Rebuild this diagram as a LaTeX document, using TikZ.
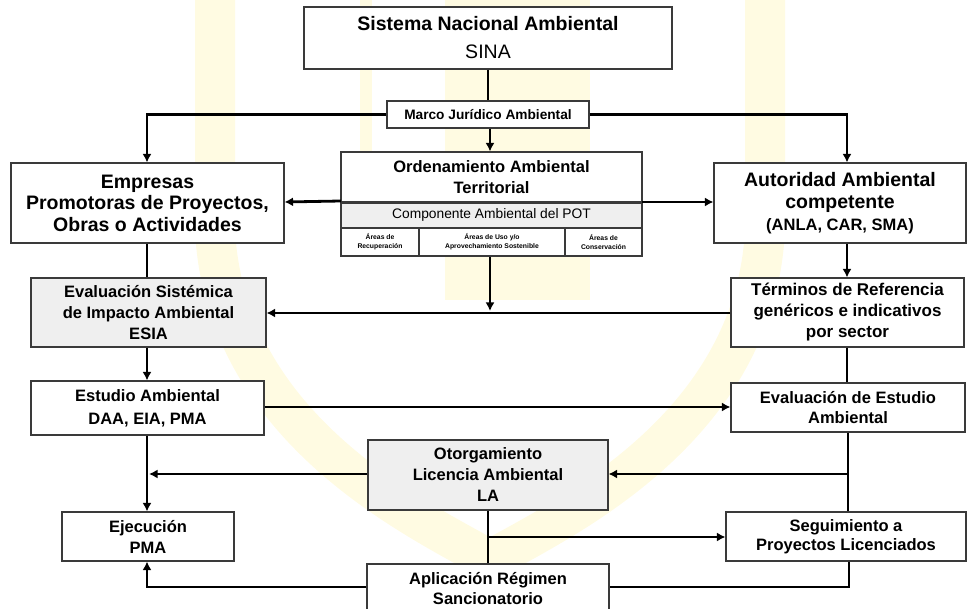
\documentclass[tikz,border=0pt]{standalone}
\usepackage{fontspec}
\setmainfont{Liberation Sans}
\usetikzlibrary{arrows.meta}

\definecolor{boxgray}{HTML}{EFEFEF}
\definecolor{edgecol}{HTML}{3A3A3A}
\definecolor{wmfill}{HTML}{FFFBE2}

\tikzset{
  box/.style={draw=edgecol, line width=1.1pt, fill=white, inner sep=0pt,
              align=center, font=\bfseries},
  greybox/.style={box, fill=boxgray},
  fsz/.style n args={2}{font=\bfseries\fontsize{#1}{#2}\selectfont},
  conn/.style={line width=2.8pt},
  arr/.style={conn, -{Latex[length=8.5pt,width=9pt]}},
  wm/.style={draw=wmfill, line cap=butt},
}

\begin{document}
\begin{tikzpicture}[x=1pt, y=-1pt]
\useasboundingbox (0,0) rectangle (967,609);
\clip (0,0) rectangle (967,609);

% pale emblem in the background
\draw[wm, line width=40pt] (215,0) -- (215,230)
  .. controls (225,430) and (420,520) .. (490,560)
  .. controls (560,520) and (755,430) .. (765,230) -- (765,0);
\fill[wmfill] (445,0) rectangle (590,300);
\fill[wmfill] (360,0) rectangle (372,160);

% boxes
\node[box, fsz={19.5}{28}, minimum width=368pt, minimum height=62pt] (sina) at (488,38)
  {Sistema Nacional Ambiental\\ \mdseries SINA};

\node[box, fsz={13.7}{16}, minimum width=202pt, minimum height=27pt] (marco) at (488,114.5)
  {Marco Jurídico Ambiental};

\node[box, fsz={16.5}{21}, minimum width=301pt, minimum height=50pt] (oat) at (491.5,177)
  {Ordenamiento Ambiental\\ Territorial};
\node[box, fill=boxgray, font=\fontsize{13.8}{16}\selectfont, minimum width=301pt, minimum height=26pt] (pot) at (491.5,215)
  {Componente Ambiental del POT};
\node[box, fsz={6.8}{9}, minimum width=78pt, minimum height=28pt] (rec) at (380,242)
  {Áreas de\\ Recuperación};
\node[box, fsz={6.8}{9}, minimum width=146pt, minimum height=28pt] (uso) at (492,242)
  {Áreas de Uso y/o\\ Aprovechamiento Sostenible};
\node[box, fsz={6.8}{9}, minimum width=77pt, minimum height=28pt] (cons) at (603.5,242)
  {Áreas de\\ Conservación};
\draw[line width=2pt, edgecol] (oat.south west) -- (oat.south east);

\node[box, fsz={19.5}{21.5}, minimum width=273pt, minimum height=80pt] (emp) at (147.5,203)
  {Empresas\\ Promotoras de Proyectos,\\ Obras o Actividades};

\node[box, fsz={19.5}{22}, minimum width=252pt, minimum height=80pt] (aut) at (840,203)
  {Autoridad Ambiental\\ competente\\
   \fontsize{16.5}{22}\selectfont (ANLA, CAR, SMA)};

\node[greybox, fsz={16.5}{21}, minimum width=235pt, minimum height=69pt] (esia) at (148.5,312.5)
  {Evaluación Sistémica\\ de Impacto Ambiental\\ ESIA};

\node[box, fsz={17}{21}, minimum width=233pt, minimum height=69pt] (term) at (847.5,312.5)
  {Términos de Referencia\\ genéricos e indicativos\\ por sector};

\node[box, fsz={16.5}{23}, minimum width=233pt, minimum height=54pt] (est) at (147.5,408)
  {Estudio Ambiental\\ DAA, EIA, PMA};

\node[box, fsz={16.5}{20}, minimum width=234pt, minimum height=49pt] (evl) at (848,407.5)
  {Evaluación de Estudio\\ Ambiental};

\node[greybox, fsz={16.5}{21}, minimum width=240pt, minimum height=70pt] (otg) at (488,475)
  {Otorgamiento\\ Licencia Ambiental\\ LA};

\node[box, fsz={16.5}{21}, minimum width=172pt, minimum height=49pt] (eje) at (148,536.5)
  {Ejecución\\ PMA};

\node[box, fsz={16.5}{19.5}, minimum width=240pt, minimum height=49pt] (seg) at (846,536.5)
  {Seguimiento a\\ Proyectos Licenciados};

\node[box, minimum width=242pt, minimum height=62pt] (apl) at (488,595) {};
\node[inner sep=0pt, anchor=north, align=center, fsz={16.5}{20}] (apltxt) at (488,572)
  {Aplicación Régimen\\ Sancionatorio};

% junction points
\coordinate (mL) at (147,114.5);
\coordinate (mR) at (847,114.5);
\coordinate (jLA) at (149,474);
\coordinate (jR) at (848,474);
\coordinate (jC) at (488,537);
\coordinate (bR) at (849,587);
\coordinate (bL) at (147,587);

% connectors
\draw[conn] (sina.south) -- (marco.north);
\draw[arr] (marco.west) -- (mL) -- (emp.north -| mL);
\draw[arr] (marco.east) -- (mR) -- (aut.north -| mR);
\draw[arr] (marco.south -| 490,0) -- (oat.north -| 490,0);
\draw[arr] (341,201) -- (emp.east |- 0,202);
\draw[arr] (642,202) -- (aut.west |- 0,202);
\draw[conn] (emp.south -| 147,0) -- (esia.north -| 147,0);
\draw[arr] (aut.south -| mR) -- (term.north -| mR);
\draw[arr] (term.west |- 0,313) -- (esia.east |- 0,313);
\draw[arr] (uso.south -| 490,0) -- (490,311);
\draw[arr] (esia.south -| 147,0) -- (est.north -| 147,0);
\draw[arr] (est.east |- 0,407) -- (evl.west |- 0,407);
\draw[conn] (term.south -| mR) -- (evl.north -| mR);
\draw[arr] (est.south -| 147,0) -- (eje.north -| 147,0);
\draw[arr] (otg.west |- jLA) -- (jLA);
\draw[conn] (evl.south -| jR) -- (seg.north -| jR);
\draw[arr] (jR) -- (otg.east |- jR);
\draw[conn] (otg.south) -- (apl.north);
\draw[arr] (jC) -- (seg.west |- jC);
\draw[conn] (seg.south -| bR) -- (bR) -- (apl.east |- bR);
\draw[arr] (apl.west |- bL) -- (bL) -- (eje.south -| bL);
\end{tikzpicture}
\end{document}
